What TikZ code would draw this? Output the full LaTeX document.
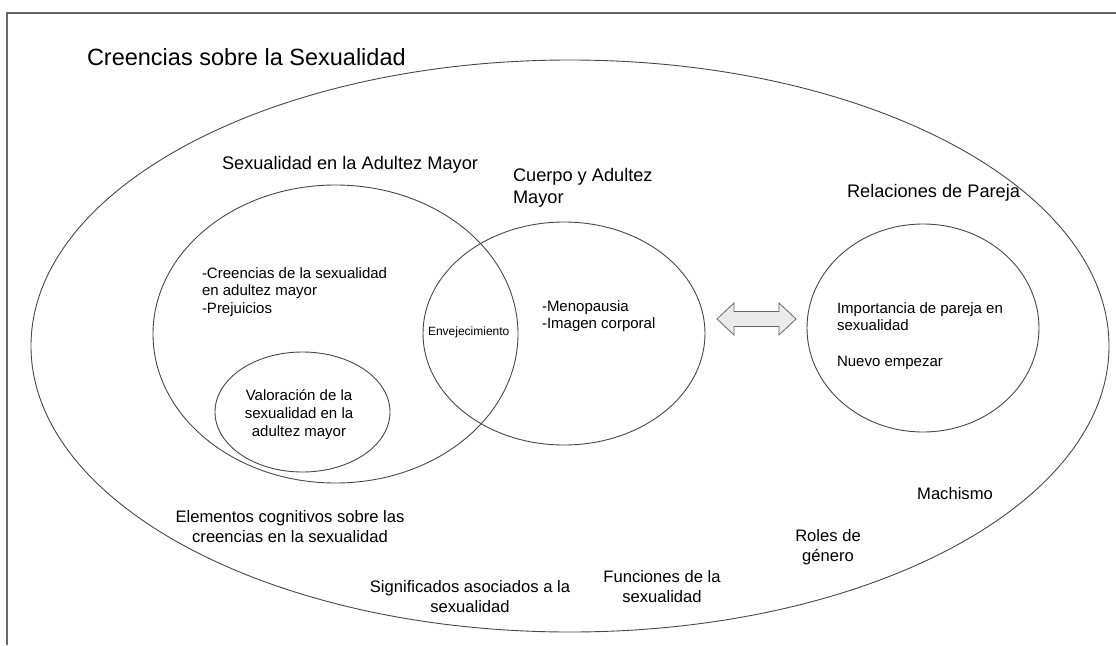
\documentclass[tikz,border=0pt]{standalone}
\usepackage{fontspec}
\setmainfont{Liberation Sans}
\usetikzlibrary{shapes.geometric}
\tikzset{
  oval/.style={draw=black!72, line width=0.9pt, ellipse, inner sep=0pt, outer sep=0pt},
  lbl/.style={inner sep=0pt, outer sep=0pt, text=black},
  big/.style={lbl, font=\fontsize{23.5}{28}\selectfont},
  head/.style={lbl, font=\fontsize{18.2}{22}\selectfont},
  body/.style={lbl, font=\fontsize{15}{17.5}\selectfont},
  small/.style={lbl, font=\fontsize{12}{14}\selectfont},
  outer/.style={lbl, font=\fontsize{16.6}{20}\selectfont, align=center},
  frame/.style={draw=black!60, line width=1.3pt},
  dblarrow/.style={draw=black!60, fill=black!8, line width=0.8pt, line join=miter}
}
\begin{document}
\begin{tikzpicture}[x=1pt,y=-1pt]
\useasboundingbox (0,0) rectangle (1116,645);
% frame (top and left edges)
\coordinate (fTR) at (1116,13);
\coordinate (fTL) at (7,13);
\coordinate (fBL) at (7,645);
\draw[frame] (fTR) -- (fTL) -- (fBL);

% ellipses
\node[oval, minimum width=1078pt, minimum height=572pt] (bigE) at (570,346) {};
\node[oval, minimum width=365pt, minimum height=298pt] (ellA) at (335.5,334) {};
\node[oval, minimum width=175pt, minimum height=120pt] (ellV) at (302.5,412) {};
\node[oval, minimum width=282pt, minimum height=223pt] (ellB) at (564,333.5) {};
\node[oval, minimum width=232pt, minimum height=208pt] (ellC) at (923,328) {};

% double arrow
\coordinate (arr) at (756.5,319);
\draw[dblarrow] (717,319) -- (734,303) -- (734,311.5) -- (779,311.5) -- (779,303)
  -- (796,319) -- (779,335) -- (779,326.5) -- (734,326.5) -- (734,335) -- cycle;

% titles
\node[big, anchor=west] (tTitle) at (87,57) {Creencias sobre la Sexualidad};
\node[head] (tA) at (350,165) {Sexualidad en la Adultez Mayor};
\node[head, anchor=west, align=left] (tB) at (513,188) {Cuerpo y Adultez\\Mayor};
\node[head, anchor=west] (tC) at (847,193) {Relaciones de Pareja};

% inner texts
\node[body, anchor=west, align=left] (txA) at (202,292) {-Creencias de la sexualidad\\en adultez mayor\\-Prejuicios};
\node[body, align=center, font=\fontsize{15}{18}\selectfont] (txV) at (299,415) {Valoración de la\\sexualidad en la\\adultez mayor};
\node[small, anchor=west] (txE) at (428,332) {Envejecimiento};
\node[body, anchor=west, align=left, font=\fontsize{15}{17}\selectfont] (txB) at (542,316.5) {-Menopausia\\-Imagen corporal};
\node[body, anchor=west, align=left, font=\fontsize{15}{17}\selectfont] (txC1) at (837,316.5) {Importancia de pareja en\\sexualidad};
\node[body, anchor=west] (txC2) at (837,363) {Nuevo empezar};

% outer texts
\node[outer] (oE) at (290,527) {Elementos cognitivos sobre las\\creencias en la sexualidad};
\node[outer] (oS) at (470,596.5) {Significados asociados a la\\sexualidad};
\node[outer] (oF) at (662,587) {Funciones de la\\sexualidad};
\node[outer] (oR) at (828,547) {Roles de\\género};
\node[outer] (oM) at (955,494) {Machismo};
\end{tikzpicture}
\end{document}
